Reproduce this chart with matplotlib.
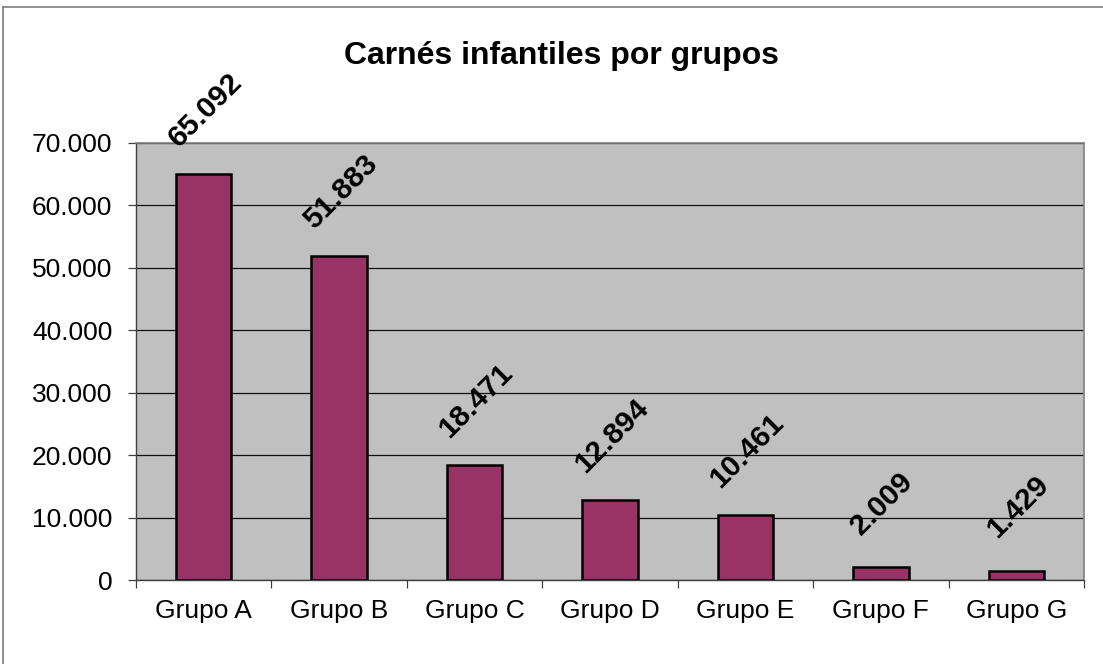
#!/usr/bin/env python3

import numpy as np
import matplotlib.pyplot as plt
from matplotlib.ticker import FuncFormatter, FixedLocator
from matplotlib.lines import Line2D

grupos = ['Grupo A', 'Grupo B', 'Grupo C', 'Grupo D', 'Grupo E', 'Grupo F', 'Grupo G']
carnes = [65092, 51883, 18471, 12894, 10461, 2009, 1429]
titulo = 'Carnés infantiles por grupos'


def miles(v, pos=None) -> str:
    # separador de miles con punto
    return f'{int(round(v)):,}'.replace(',', '.')


def main() -> None:
    plt.rcParams['font.family'] = ['Liberation Sans', 'DejaVu Sans']

    W, H = 1103, 664
    fig = plt.figure(figsize=(W / 100, H / 100), dpi=100)
    ax = fig.add_axes([136 / W, 1 - 580 / H, (1084 - 136) / W, (580 - 143) / H])
    ax.set_facecolor('#c0c0c0')

    # marco exterior del gráfico (solo se ven borde superior e izquierdo)
    fig.add_artist(Line2D([3 / W, 3 / W], [0, 1 - 7 / H], transform=fig.transFigure,
                          color='#7f7f7f', lw=1.2))
    fig.add_artist(Line2D([3 / W, 1], [1 - 7 / H, 1 - 7 / H], transform=fig.transFigure,
                          color='#7f7f7f', lw=1.2))

    x = np.arange(len(grupos))
    ax.bar(x, carnes, width=0.41, color='#993366', edgecolor='black', linewidth=1.8, zorder=3)

    for xi, v in zip(x, carnes):
        ax.annotate(miles(v), (xi, v), xytext=(1, 46), textcoords='offset points',
                    ha='center', va='center', rotation=45, rotation_mode='anchor',
                    fontsize=21.5, fontweight='bold', annotation_clip=False, zorder=4)

    ax.set_xlim(-0.5, len(grupos) - 0.5)
    ax.set_ylim(0, 70000)
    ax.set_yticks(np.arange(0, 70001, 10000))
    ax.yaxis.set_major_formatter(FuncFormatter(miles))
    ax.yaxis.grid(True, color='#101010', lw=0.9, zorder=1)
    ax.set_axisbelow(True)

    ax.set_xticks(x)
    ax.set_xticklabels(grupos)
    ax.xaxis.set_minor_locator(FixedLocator(np.arange(-0.5, len(grupos), 1)))
    ax.tick_params(axis='x', which='major', length=0, pad=14, labelsize=19)
    ax.tick_params(axis='x', which='minor', length=6, width=0.9, color='#404040')
    ax.tick_params(axis='y', length=6, width=0.9, color='#404040', pad=11, labelsize=19)

    for s in ['top', 'right']:
        ax.spines[s].set_color('#808080')
        ax.spines[s].set_linewidth(1.2)
    for s in ['left', 'bottom']:
        ax.spines[s].set_color('#404040')
        ax.spines[s].set_linewidth(1.0)

    fig.text(562 / W, 1 - 56 / H, titulo, ha='center', va='center',
             fontsize=23, fontweight='bold')

    fig.savefig('out.png', dpi=100)


if __name__ == "__main__":
    main()
